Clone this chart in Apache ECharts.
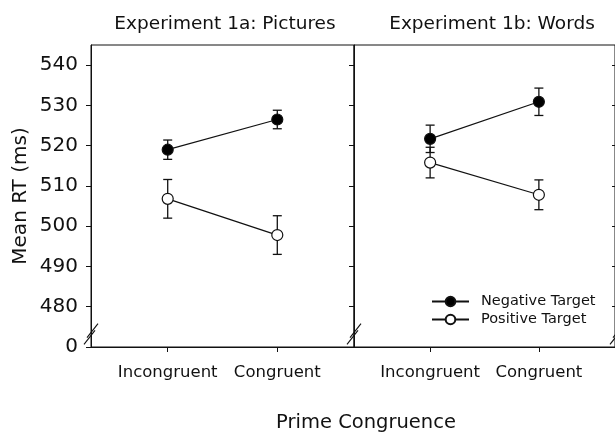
<!DOCTYPE html>
<html><head><meta charset="utf-8">
<script src="https://cdn.jsdelivr.net/npm/echarts@6/dist/echarts.min.js"></script>
<style>html,body{margin:0;padding:0;background:#fff}#c{width:615px;height:432px}</style>
</head><body><div id="c"></div>
<script>
const categories = ['Incongruent', 'Congruent'];
const catX = [1, 2];
const panelTitles = ['Experiment 1a: Pictures', 'Experiment 1b: Words'];
const seriesNames = ['Negative Target', 'Positive Target'];
const negPictures = [519.0, 526.5];
const negPicturesErr = [2.4, 2.3];
const posPictures = [506.8, 497.8];
const posPicturesErr = [4.8, 4.8];
const negWords = [521.7, 530.9];
const negWordsErr = [3.4, 3.4];
const posWords = [515.8, 507.8];
const posWordsErr = [3.8, 3.7];
const yTicks = [470, 480, 490, 500, 510, 520, 530, 540];
const yTickLabels = ['0', '480', '490', '500', '510', '520', '530', '540'];
const xTitle = 'Prime Congruence';
const yTitle = 'Mean RT (ms)';

const FONT = 'DejaVu Sans';
const INK = '#111';
const chart = echarts.init(document.getElementById('c'), null, {renderer: 'canvas'});

const grids = [
  {left: 91, top: 45, width: 263, height: 302, show: true, borderColor: INK, borderWidth: 1},
  {left: 354, top: 45, width: 263, height: 302, show: true, borderColor: INK, borderWidth: 1},
  {left: 617, top: 45, width: 200, height: 302, show: true, borderColor: INK, borderWidth: 1}
];

function xAxisFor(i) {
  return {
    type: 'value', gridIndex: i, min: 0.3, max: 2.7,
    axisLine: {show: true, onZero: false, lineStyle: {color: INK, width: 1}},
    axisTick: {show: i < 2, inside: false, length: 5, customValues: catX, lineStyle: {color: INK}},
    axisLabel: {show: i < 2, customValues: catX, margin: 17, color: INK, fontFamily: FONT, fontSize: 16.5,
      formatter: v => categories[catX.indexOf(v)] || ''},
    splitLine: {show: false}
  };
}
function yAxisFor(i) {
  return {
    type: 'value', gridIndex: i, min: 470, max: 545, interval: 10,
    axisLine: {show: true, onZero: false, lineStyle: {color: INK, width: 1}},
    axisTick: {show: true, inside: false, length: 5, customValues: yTicks, lineStyle: {color: INK}},
    axisLabel: {show: i === 0, customValues: yTicks, margin: 13, color: INK, fontFamily: FONT, fontSize: 20,
      formatter: v => yTickLabels[yTicks.indexOf(v)] || ''},
    splitLine: {show: false},
    name: i === 0 ? yTitle : '', nameLocation: 'middle', nameGap: 60, nameRotate: 90,
    nameTextStyle: {color: INK, fontFamily: FONT, fontSize: 20}
  };
}

function errData(vals, errs) {
  return vals.map((v, k) => [catX[k], v - errs[k], v + errs[k]]);
}
function errSeries(idx, vals, errs) {
  return {
    type: 'custom', xAxisIndex: idx, yAxisIndex: idx, z: 1, silent: true,
    data: errData(vals, errs),
    renderItem: (params, api) => {
      const lo = api.coord([api.value(0), api.value(1)]);
      const hi = api.coord([api.value(0), api.value(2)]);
      const w = 4.5;
      const st = {stroke: INK, lineWidth: 1.3};
      return {type: 'group', children: [
        {type: 'line', shape: {x1: lo[0], y1: lo[1], x2: hi[0], y2: hi[1]}, style: st},
        {type: 'line', shape: {x1: lo[0] - w, y1: lo[1], x2: lo[0] + w, y2: lo[1]}, style: st},
        {type: 'line', shape: {x1: hi[0] - w, y1: hi[1], x2: hi[0] + w, y2: hi[1]}, style: st}
      ]};
    }
  };
}
function lineSeries(idx, name, vals, filled) {
  return {
    type: 'line', name: name, xAxisIndex: idx, yAxisIndex: idx, z: 3,
    data: vals.map((v, k) => [catX[k], v]),
    symbol: 'circle', symbolSize: 11,
    lineStyle: {color: INK, width: 1.2},
    itemStyle: {color: filled ? '#000' : '#fff', borderColor: INK, borderWidth: 1.2},
    emphasis: {disabled: true}
  };
}

const option = {
  animation: false,
  backgroundColor: '#fff',
  title: [
    {text: panelTitles[0], left: 220, top: 10, textAlign: 'center',
      textStyle: {fontFamily: FONT, fontSize: 18.5, fontWeight: 'normal', color: INK}},
    {text: panelTitles[1], left: 487, top: 10, textAlign: 'center',
      textStyle: {fontFamily: FONT, fontSize: 18.5, fontWeight: 'normal', color: INK}},
    {text: xTitle, left: 361, top: 408, textAlign: 'center',
      textStyle: {fontFamily: FONT, fontSize: 19.5, fontWeight: 'normal', color: INK}}
  ],
  legend: {
    orient: 'vertical', left: 426, top: 289, itemGap: 3, itemWidth: 37, itemHeight: 12,
    data: seriesNames,
    textStyle: {fontFamily: FONT, fontSize: 14.5, color: INK, padding: [0, 0, 0, 7]},
    selectedMode: false
  },
  grid: grids,
  xAxis: [xAxisFor(0), xAxisFor(1), xAxisFor(2)],
  yAxis: [yAxisFor(0), yAxisFor(1), yAxisFor(2)],
  series: [
    errSeries(0, negPictures, negPicturesErr),
    errSeries(0, posPictures, posPicturesErr),
    lineSeries(0, seriesNames[0], negPictures, true),
    lineSeries(0, seriesNames[1], posPictures, false),
    errSeries(1, negWords, negWordsErr),
    errSeries(1, posWords, posWordsErr),
    lineSeries(1, seriesNames[0], negWords, true),
    lineSeries(1, seriesNames[1], posWords, false)
  ]
};
chart.setOption(option);

// axis-break marks on each y axis, positioned through the axes
const breaks = [];
for (let i = 0; i < 3; i++) {
  const a = chart.convertToPixel({gridIndex: i}, [0.3, 470.9]);
  const b = chart.convertToPixel({gridIndex: i}, [0.3, 474.3]);
  const x = a[0];
  const st = {stroke: INK, lineWidth: 1.1};
  breaks.push({type: 'line', shape: {x1: x - 7, y1: a[1] + 1, x2: x + 4, y2: a[1] - 13}, style: st, z: 10});
  breaks.push({type: 'line', shape: {x1: x - 4, y1: b[1] + 8, x2: x + 7, y2: b[1] - 6}, style: st, z: 10});
}
chart.setOption({graphic: breaks});
</script></body></html>
